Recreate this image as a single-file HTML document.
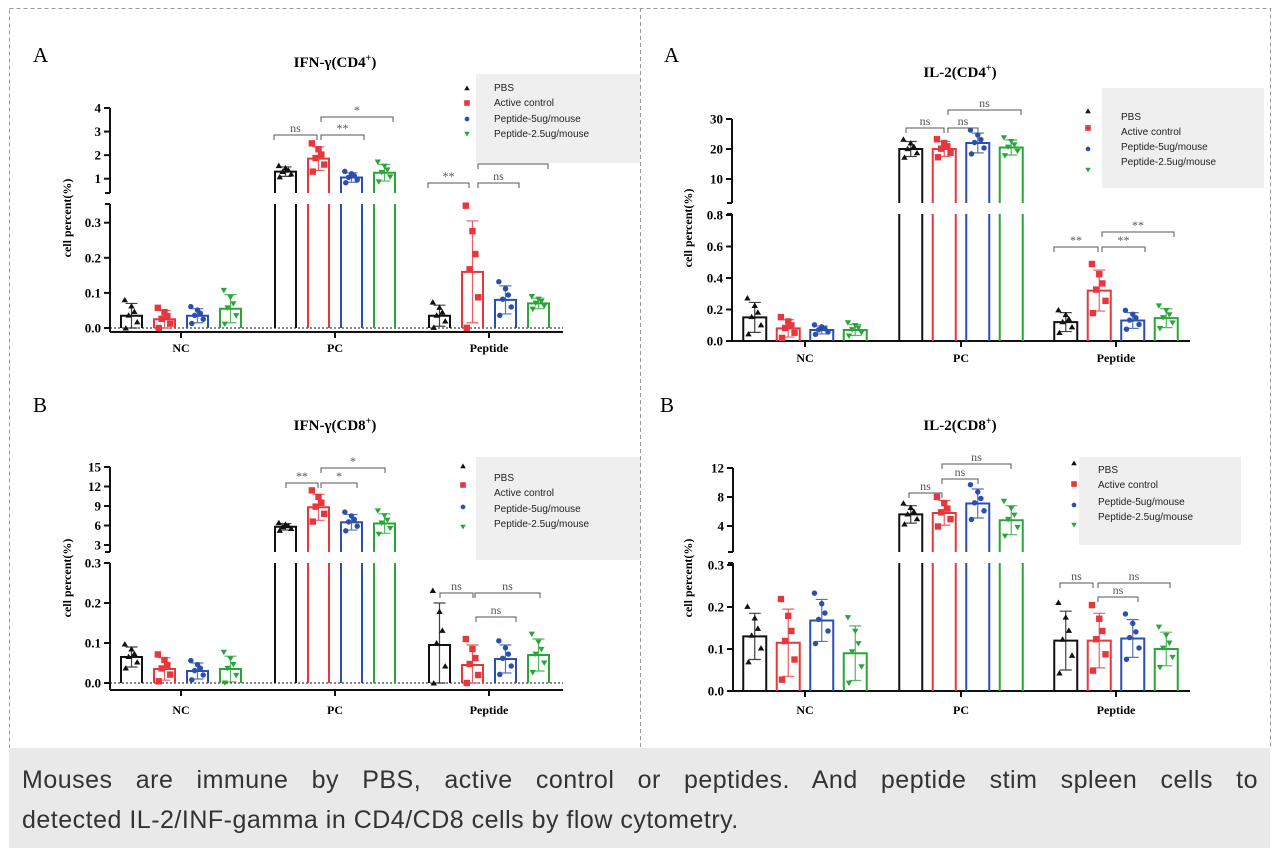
<!DOCTYPE html>
<html><head><meta charset="utf-8"><style>
body{margin:0;background:#fff;}
#cap{position:absolute;left:9px;top:748px;width:1261px;height:100px;background:#e9e9e9;}
#cap p{margin:0;position:absolute;left:13px;top:12px;width:1236px;font:25px/40px "Liberation Sans",sans-serif;letter-spacing:0.5px;color:#333;text-align:justify;text-align-last:justify;}
</style></head><body>
<svg id="s" width="1280" height="856" style="position:absolute;left:0;top:0" xmlns="http://www.w3.org/2000/svg"></svg>
<div id="cap"><p>Mouses are immune by PBS, active control or peptides. And peptide stim spleen cells to<br><span style="display:inline-block;text-align-last:left">detected IL-2/INF-gamma in CD4/CD8 cells by flow cytometry.</span></p></div>
<script>
const C=['#111','#e8363d','#2a4fb0','#2aa53a'];
let o='';
o+='<rect x="9.5" y="8.5" width="1261" height="740" fill="none" stroke="#999" stroke-dasharray="4,3"/>';
o+='<line x1="640.5" y1="8" x2="640.5" y2="748" stroke="#999" stroke-dasharray="4,3"/>';
function mk(t,x,y,c,s){s=s||3.2;
 if(t==0)return `<path d="M${x-s} ${y+s*0.8}L${x} ${y-s*0.9}L${x+s} ${y+s*0.8}Z" fill="${c}"/>`;
 if(t==1)return `<rect x="${x-s}" y="${y-s}" width="${2*s}" height="${2*s}" fill="${c}"/>`;
 if(t==2)return `<circle cx="${x}" cy="${y}" r="${s*0.85}" fill="${c}"/>`;
 return `<path d="M${x-s} ${y-s*0.8}L${x} ${y+s*0.9}L${x+s} ${y-s*0.8}Z" fill="${c}"/>`;}
const F='font-family="Liberation Serif,serif"';
function panel(P){
 const L=P.lo,U=P.up;
 const Y=v=>v>L.max?U.y0+(v-U.v0)*(U.y1-U.y0)/(U.v1-U.v0):L.y0+(v-L.v0)*(L.y1-L.y0)/(L.v1-L.v0);
 o+=`<g stroke="#111" stroke-width="2" fill="none"><line x1="${P.ax}" y1="${P.base}" x2="${P.ax}" y2="${L.top}"/><line x1="${P.ax-5}" y1="${L.top}" x2="${P.ax}" y2="${L.top}"/><line x1="${P.ax}" y1="${U.bot}" x2="${P.ax}" y2="${U.top}"/><line x1="${P.ax-5}" y1="${U.bot}" x2="${P.ax}" y2="${U.bot}"/><line x1="${P.ax}" y1="${P.base}" x2="${P.end}" y2="${P.base}"/>`;
 P.cx.forEach(c=>o+=`<line x1="${c}" y1="${P.base}" x2="${c}" y2="${P.base+6}"/>`);
 P.lt.forEach(v=>o+=`<line x1="${P.ax-6}" y1="${Y(v)}" x2="${P.ax}" y2="${Y(v)}"/>`);
 P.ut.forEach(v=>o+=`<line x1="${P.ax-6}" y1="${Y(v)}" x2="${P.ax}" y2="${Y(v)}"/>`);
 o+='</g>';
 P.lt.forEach(v=>o+=`<text x="${P.ax-9}" y="${Y(v)+4.5}" text-anchor="end" ${F} font-weight="bold" font-size="13">${v.toFixed(1)}</text>`);
 P.ut.forEach(v=>o+=`<text x="${P.ax-9}" y="${Y(v)+4.5}" text-anchor="end" ${F} font-weight="bold" font-size="13">${v}</text>`);
 if(P.dot)o+=`<line x1="${P.ax}" y1="${L.y0}" x2="${P.end}" y2="${L.y0}" stroke="#111" stroke-width="1" stroke-dasharray="2,2"/>`;
 ['NC','PC','Peptide'].forEach((t,i)=>o+=`<text x="${P.cx[i]}" y="${P.lab}" text-anchor="middle" ${F} font-weight="bold" font-size="12">${t}</text>`);
 o+=`<text transform="translate(${P.yl[0]},${P.yl[1]}) rotate(-90)" text-anchor="middle" ${F} font-weight="bold" font-size="12">cell percent(%)</text>`;
 o+=`<text x="${P.tt[0]}" y="${P.tt[1]}" text-anchor="middle" ${F} font-weight="bold" font-size="15">${P.title}<tspan dy="-6" font-size="10">+</tspan><tspan dy="6">)</tspan></text>`;
 o+=`<text x="${P.lt2[0]}" y="${P.lt2[1]}" ${F} font-size="21">${P.letter}</text>`;
 const off=[-1.5,-0.5,0.5,1.5],jit=[-6,6,-3,3,0,-7],ks=[-1.1,-0.5,0.05,0.35,0.8,1.3];
 P.d.forEach((g,gi)=>g.forEach((b,i)=>{
  const x=P.cx[gi]+off[i]*P.pitch,w=P.bw,c=C[i],m=b[0],sd=b[1],ym=Y(m);
  if(m>L.max){
   o+=`<path d="M${x-w/2} ${L.y0}V${L.top}M${x+w/2} ${L.y0}V${L.top}" stroke="${c}" stroke-width="2" fill="none"/>`;
   o+=`<path d="M${x-w/2} ${U.bot}V${ym}H${x+w/2}V${U.bot}" stroke="${c}" stroke-width="2" fill="none"/>`;
  } else o+=`<path d="M${x-w/2} ${L.y0}V${ym}H${x+w/2}V${L.y0}" stroke="${c}" stroke-width="2" fill="none"/>`;
  const a=Y(Math.max(m-sd,0)),bb=Y(m+sd);
  o+=`<path d="M${x} ${a}V${bb}M${x-6} ${a}H${x+6}M${x-6} ${bb}H${x+6}" stroke="${c}" stroke-width="1.2" opacity="0.8" fill="none"/>`;
  ks.forEach((k,j)=>{let v=Math.max(m+sd*k,0);o+=mk(i,x+jit[j]*w/22,Y(v),c);});
 }));
 P.br.forEach(b=>{o+=`<path d="M${b[0]} ${b[2]+5}V${b[2]}H${b[1]}V${b[2]+5}" stroke="#555" stroke-width="1" fill="none"/><text x="${(b[0]+b[1])/2}" y="${b[2]-3}" text-anchor="middle" ${F} font-size="12" fill="#555">${b[3]}</text>`;});
 const G=P.lg;
 o+=`<rect x="${G.x}" y="${G.y}" width="${G.w}" height="${G.h}" fill="#efefef"/>`;
 ['PBS','Active control','Peptide-5ug/mouse','Peptide-2.5ug/mouse'].forEach((t,i)=>{o+=mk(i,G.mx,G.my[i],C[i],2.8);o+=`<text x="${G.tx}" y="${G.ty[i]}" font-family="Liberation Sans,sans-serif" font-size="10" fill="#222">${t}</text>`;});
}
panel({ax:110,end:563,base:332,dot:1,lo:{v0:0,y0:328,v1:0.3,y1:222.7,top:204,max:0.36},up:{v0:1,y0:178.7,v1:4,y1:108,bot:193,top:108},
 lt:[0,0.1,0.2,0.3],ut:[1,2,3,4],cx:[181,335,489],pitch:33,bw:21,lab:352,yl:[71,218],tt:[335,67],lt2:[33,62],title:'IFN-γ(CD4',letter:'A',
 d:[[[0.035,0.035],[0.025,0.025],[0.035,0.02],[0.055,0.04]],[[1.3,0.2],[1.85,0.5],[1.05,0.2],[1.25,0.35]],[[0.035,0.03],[0.16,0.145],[0.08,0.04],[0.07,0.015]]],
 br:[[274,317,135,'ns'],[321,364,135,'**'],[321,393,117,'*'],[428,469,183,'**'],[478,519,183,'ns'],[478,548,164,'']],
 lg:{x:476,y:74,w:164,h:89,mx:467,my:[88,103,119,134],tx:494,ty:[91,106,122,137]}});
panel({ax:732,end:1190,base:341,dot:0,lo:{v0:0,y0:341,v1:0.8,y1:215,top:214,max:0.9},up:{v0:10,y0:179,v1:30,y1:119,bot:203,top:119},
 lt:[0,0.2,0.4,0.6,0.8],ut:[10,20,30],cx:[805,961,1116],pitch:33.5,bw:23,lab:362,yl:[692,228],tt:[960,77],lt2:[664,62],title:'IL-2(CD4',letter:'A',
 d:[[[0.15,0.095],[0.08,0.055],[0.07,0.025],[0.07,0.035]],[[20,2.5],[20,2.5],[22,3.3],[20.5,2.5]],[[0.12,0.06],[0.32,0.13],[0.13,0.05],[0.145,0.06]]],
 br:[[906,944,128,'ns'],[948,978,128,'ns'],[948,1021,110,'ns'],[1054,1098,247,'**'],[1102,1145,247,'**'],[1102,1174,232,'**']],
 lg:{x:1102,y:88,w:162,h:100,mx:1088,my:[111,128,149,170],tx:1121,ty:[120,135,150,165]}});
panel({ax:110,end:563,base:690,dot:1,lo:{v0:0,y0:683,v1:0.3,y1:563,top:563,max:0.31},up:{v0:3,y0:545,v1:15,y1:467,bot:552,top:467},
 lt:[0,0.1,0.2,0.3],ut:[3,6,9,12,15],cx:[181,335,489],pitch:33,bw:21,lab:714,yl:[71,578],tt:[335,430],lt2:[33,412],title:'IFN-γ(CD8',letter:'B',
 d:[[[0.065,0.025],[0.035,0.028],[0.03,0.02],[0.035,0.032]],[[5.8,0.5],[8.8,2],[6.5,1.2],[6.3,1.5]],[[0.095,0.105],[0.045,0.05],[0.06,0.035],[0.07,0.04]]],
 br:[[286,318,483,'**'],[321,357,483,'*'],[321,385,468,'*'],[440,473,593,'ns'],[475,540,593,'ns'],[476,516,617,'ns']],
 lg:{x:476,y:457,w:164,h:103,mx:463,my:[466,485,507,527],tx:494,ty:[481,496,512,527]}});
panel({ax:733,end:1190,base:691,dot:0,lo:{v0:0,y0:691,v1:0.3,y1:565,top:563,max:0.31},up:{v0:4,y0:526,v1:12,y1:468,bot:552,top:468},
 lt:[0,0.1,0.2,0.3],ut:[4,8,12],cx:[805,961,1116],pitch:33.5,bw:23,lab:714,yl:[692,578],tt:[960,430],lt2:[660,412],title:'IL-2(CD8',letter:'B',
 d:[[[0.13,0.055],[0.115,0.08],[0.168,0.05],[0.09,0.065]],[[5.6,1.2],[5.8,1.7],[7.1,2],[4.8,2]],[[0.12,0.07],[0.12,0.065],[0.125,0.045],[0.1,0.04]]],
 br:[[909,942,493,'ns'],[942,978,479,'ns'],[942,1011,464,'ns'],[1060,1093,583,'ns'],[1098,1138,597,'ns'],[1098,1170,583,'ns']],
 lg:{x:1079,y:457,w:162,h:88,mx:1074,my:[463,484,505,525],tx:1098,ty:[473,488,505,520]}});
document.getElementById('s').innerHTML=o;
</script>
</body></html>
